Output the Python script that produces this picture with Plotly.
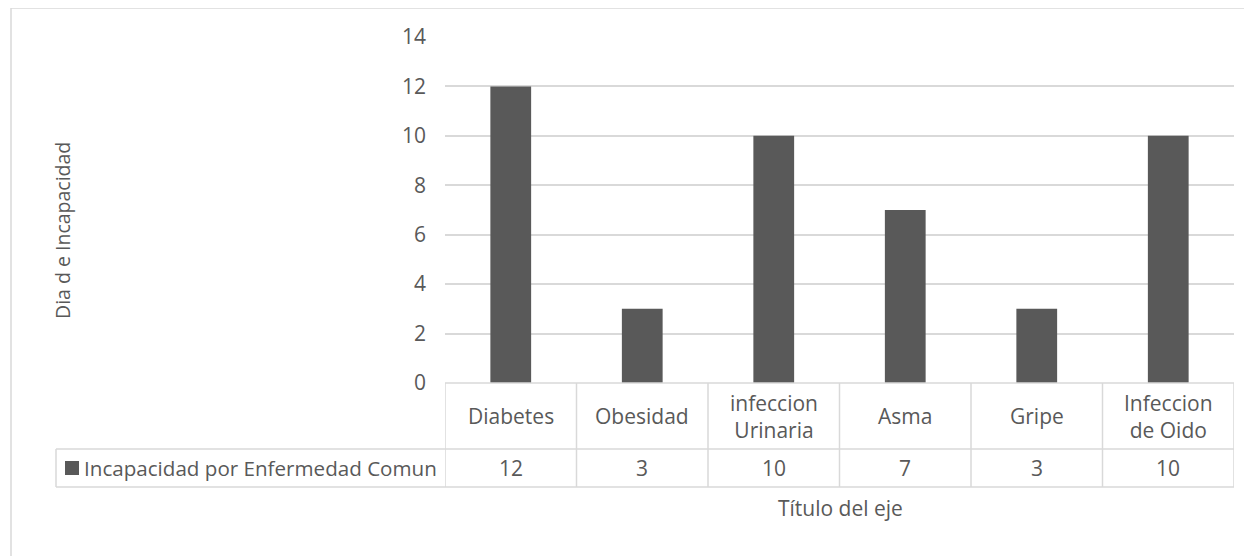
import plotly.graph_objects as go

categories = ["Diabetes", "Obesidad", "infeccion\nUrinaria", "Asma", "Gripe", "Infeccion\nde Oido"]
values = [12, 3, 10, 7, 3, 10]
series_name = "Incapacidad por Enfermedad Comun"
y_title = "Dia d e Incapacidad"
x_title = "Título del eje"
y_ticks = [0, 2, 4, 6, 8, 10, 12, 14]

# page is shown with an 8px body margin; work in page pixels and shift
OFF = 8
W, H = 1252 - OFF, 556 - OFF
PL, PR, PT, PB = 445, 1234, 37, 383  # plot area in page pixels
L, R, T, B = PL - OFF, W - (PR - OFF), PT - OFF, H - (PB - OFF)
PW, PH = W - L - R, H - T - B
BAR = "#595959"
TXT = "#595959"
GRID = "#d9d9d9"
FONT = "Open Sans"
FS = 21


def px(x):
    return (x - PL) / PW


def py(y):
    return (PB - y) / PH


fig = go.Figure()
fig.add_trace(go.Bar(
    x=list(range(len(categories))), y=values, name=series_name,
    marker=dict(color=BAR, line=dict(width=0)), showlegend=False,
))

shapes = []
line = dict(color=GRID, width=1.5)
# outer chart border
shapes.append(dict(type="rect", xref="paper", yref="paper", x0=px(11), x1=px(1270),
                   y0=py(8), y1=py(600), line=line, layer="below"))
row1, row2, row3 = PB, 449, 487
shapes.append(dict(type="line", xref="paper", yref="paper", x0=0, x1=1, y0=py(row1), y1=py(row1), line=line))
shapes.append(dict(type="line", xref="paper", yref="paper", x0=px(56), x1=1, y0=py(row2), y1=py(row2), line=line))
shapes.append(dict(type="line", xref="paper", yref="paper", x0=px(56), x1=1, y0=py(row3), y1=py(row3), line=line))
shapes.append(dict(type="line", xref="paper", yref="paper", x0=px(56), x1=px(56), y0=py(row2), y1=py(row3), line=line))
n = len(categories)
for i in range(n + 1):
    shapes.append(dict(type="line", xref="x", yref="paper", x0=i - 0.5, x1=i - 0.5,
                       y0=py(row1), y1=py(row3), line=line))
# legend key
shapes.append(dict(type="rect", xref="paper", yref="paper", x0=px(65), x1=px(79),
                   y0=py(461), y1=py(475), fillcolor=BAR, line=dict(width=0)))

f = dict(family=FONT, size=FS, color=TXT)
ann = []
for i, (c, v) in enumerate(zip(categories, values)):
    ann.append(dict(x=i, y=py((row1 + row2) / 2), xref="x", yref="paper", text=c.replace("\n", "<br>"),
                    showarrow=False, font=f, yanchor="middle"))
    ann.append(dict(x=i, y=py((row2 + row3) / 2), xref="x", yref="paper", text=str(v),
                    showarrow=False, font=f, yanchor="middle"))
ann.append(dict(x=px(82), y=py((row2 + row3) / 2), xref="paper", yref="paper", text=series_name,
                showarrow=False, xanchor="left", yanchor="middle",
                font=dict(family=FONT, size=20.6, color=TXT)))
ann.append(dict(x=px(840), y=py(508), xref="paper", yref="paper", text=x_title, showarrow=False,
                xanchor="center", yanchor="middle", font=f))
ann.append(dict(x=px(62), y=py(231), xref="paper", yref="paper", text=y_title, showarrow=False,
                textangle=-90, xanchor="center", yanchor="middle",
                font=dict(family=FONT, size=19.5, color=TXT)))

fig.update_layout(
    width=W, height=H, margin=dict(l=L, r=R, t=T, b=B),
    paper_bgcolor="white", plot_bgcolor="white",
    bargap=0.69, shapes=shapes, annotations=ann, font=f,
    xaxis=dict(range=[-0.5, n - 0.5], showticklabels=False, showgrid=False, zeroline=False,
               showline=False, ticks=""),
    yaxis=dict(range=[0, 14], tickvals=y_ticks, showgrid=True, gridcolor=GRID, gridwidth=1.5,
               zeroline=False, showline=False, ticks="", ticklabelstandoff=18, tickfont=f),
)
fig.write_html("out.html")
